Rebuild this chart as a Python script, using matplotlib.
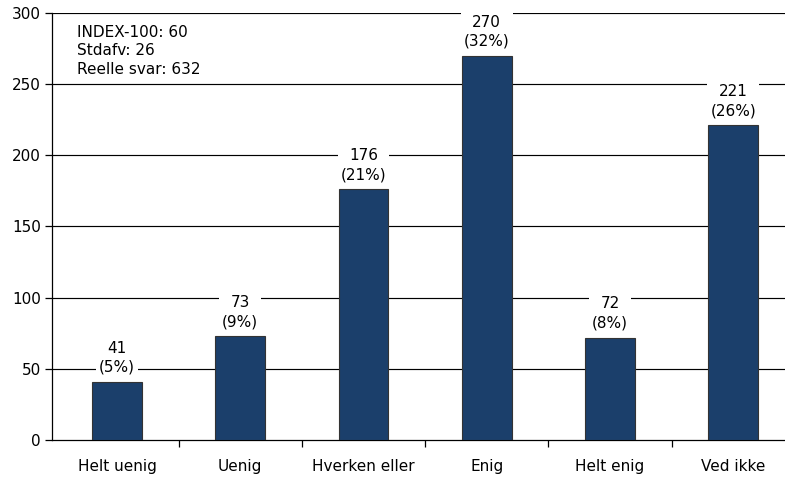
import numpy as np
import matplotlib.pyplot as plt

## answer categories and counts
categories = ['Helt uenig', 'Uenig', 'Hverken eller', 'Enig', 'Helt enig', 'Ved ikke']
counts = [41, 73, 176, 270, 72, 221]
percents = [5, 9, 21, 32, 8, 26]
info_lines = ['INDEX-100: 60', 'Stdafv: 26', 'Reelle svar: 632']
y_ticks = [0, 50, 100, 150, 200, 250, 300]

BAR_COLOR = '#1b3f6b'
FONT_SIZE = 11

plt.rcParams['font.family'] = ['DejaVu Sans']

fig = plt.figure(figsize=(7.85, 4.79), dpi=100)
ax = fig.add_axes([0.0662, 0.0814, 0.9338, 0.8915])

x = np.arange(len(categories))
ax.bar(x, counts, width=0.405, color=BAR_COLOR, edgecolor='#333333', linewidth=0.8, zorder=3)

# horizontal grid lines
for t in y_ticks[1:]:
    ax.axhline(t, color='black', linewidth=0.85, zorder=1)

# value labels with white box cutting the grid line
for xi, c, p in zip(x, counts, percents):
    ax.annotate('%d\n(%d%%)' % (c, p), (xi, c), xytext=(0, 5), textcoords='offset points',
                ha='center', va='bottom', fontsize=FONT_SIZE, linespacing=1.35,
                bbox=dict(boxstyle='square,pad=0.2', facecolor='white', edgecolor='none'),
                zorder=4)

ax.text(0.034, 0.973, '\n'.join(info_lines), transform=ax.transAxes, ha='left', va='top',
        fontsize=FONT_SIZE, linespacing=1.33, zorder=5)

ax.set_xlim(-0.528, 5.42)
ax.set_ylim(0, 300)
ax.set_yticks(y_ticks)
ax.set_xticks(x)
ax.set_xticklabels(categories)
ax.set_xticks(x[:-1] + 0.5, minor=True)
ax.tick_params(axis='x', which='major', length=0, pad=14, labelsize=FONT_SIZE)
ax.tick_params(axis='x', which='minor', length=5, direction='out', width=0.9)
ax.tick_params(axis='y', length=5, direction='out', width=0.9, labelsize=FONT_SIZE, pad=3)

ax.spines['top'].set_visible(False)
ax.spines['right'].set_visible(False)
ax.spines['left'].set_linewidth(0.9)
ax.spines['bottom'].set_linewidth(0.9)
ax.set_facecolor('white')

plt.savefig('out.png', dpi=100)
plt.close()
